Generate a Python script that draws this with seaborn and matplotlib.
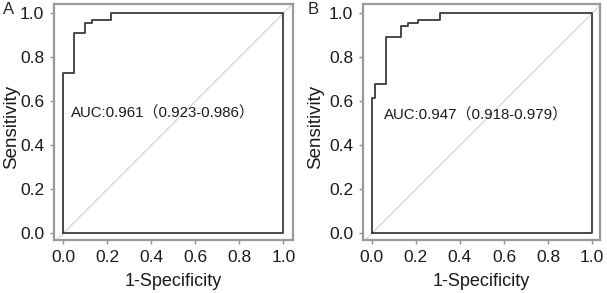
import matplotlib
matplotlib.use("Agg")
import matplotlib.pyplot as plt
import seaborn as sns
import pandas as pd

# ROC corner points (1-specificity, sensitivity), closed back along x=1 and y=0
fpr_a = [0.0, 0.0, 0.048, 0.099, 0.129, 0.215, 1.0, 1.0, 0.0]
tpr_a = [0.0, 0.727, 0.909, 0.955, 0.970, 1.0, 1.0, 0.0, 0.0]
fpr_b = [0.0, 0.0, 0.015, 0.065, 0.133, 0.163, 0.211, 0.31, 1.0, 1.0, 0.0]
tpr_b = [0.0, 0.615, 0.679, 0.891, 0.94, 0.955, 0.97, 1.0, 1.0, 0.0, 0.0]
auc_a = "AUC:0.961（0.923-0.986）"
auc_b = "AUC:0.947（0.918-0.979）"
panel_labels = ["A", "B"]
ticks = [0.0, 0.2, 0.4, 0.6, 0.8, 1.0]

sns.set_style("white")
plt.rcParams['font.family'] = ['Liberation Sans', 'Noto Sans CJK SC', 'DejaVu Sans']

fig = plt.figure(figsize=(6.07, 2.93), dpi=100)
W, H = 607, 293


def make_ax(l, r, t, b):
    return fig.add_axes([l / W, 1 - b / H, (r - l) / W, (b - t) / H])


ax_a = make_ax(54, 293, 4, 240)
ax_b = make_ax(363, 600, 4, 240)

panels = [
    (ax_a, fpr_a, tpr_a, auc_a, (0.034, 0.547), (-0.042, 1.044), -0.14),
    (ax_b, fpr_b, tpr_b, auc_b, (0.056, 0.535), (-0.040, 1.036), -0.166),
]

for ax, fpr, tpr, auc_txt, txt_pos, xlim, ylab_x in panels:
    df = pd.DataFrame({'fpr': fpr, 'tpr': tpr})
    ax.axline((0, 0), (1, 1), color='#d0d0d0', lw=0.8, zorder=1)
    sns.lineplot(data=df, x='fpr', y='tpr', ax=ax, sort=False,
                 estimator=None, drawstyle='steps-post',
                 color='#3a3a3a', lw=1.3, zorder=2)
    ax.set_xlim(xlim)
    ax.set_ylim(-0.030, 1.042)
    ax.set_xticks(ticks)
    ax.set_yticks(ticks)
    ax.set_xticklabels([f"{t:.1f}" for t in ticks])
    ax.set_yticklabels([f"{t:.1f}" for t in ticks])
    ax.tick_params(axis='both', labelsize=12.5, length=3, width=1,
                   color='#8c8c8c', pad=4, direction='out',
                   left=True, bottom=True, labelcolor='#1a1a1a')
    for sp in ax.spines.values():
        sp.set_color('#999999')
        sp.set_linewidth(1.6)
    ax.set_xlabel('1-Specificity', fontsize=13, color='#1a1a1a')
    ax.set_ylabel('Sensitivity', fontsize=13.5, color='#1a1a1a')
    ax.xaxis.set_label_coords(0.5, -0.14)
    ax.yaxis.set_label_coords(ylab_x, 0.479)
    ax.text(txt_pos[0], txt_pos[1], auc_txt, fontsize=10.8, va='center',
            ha='left', color='#1a1a1a')

fig.text(3 / W, 1 - 10 / H, panel_labels[0], fontsize=12, va='center', ha='left')
fig.text(308 / W, 1 - 10 / H, panel_labels[1], fontsize=12, va='center', ha='left')

fig.savefig('out.png', dpi=100)
